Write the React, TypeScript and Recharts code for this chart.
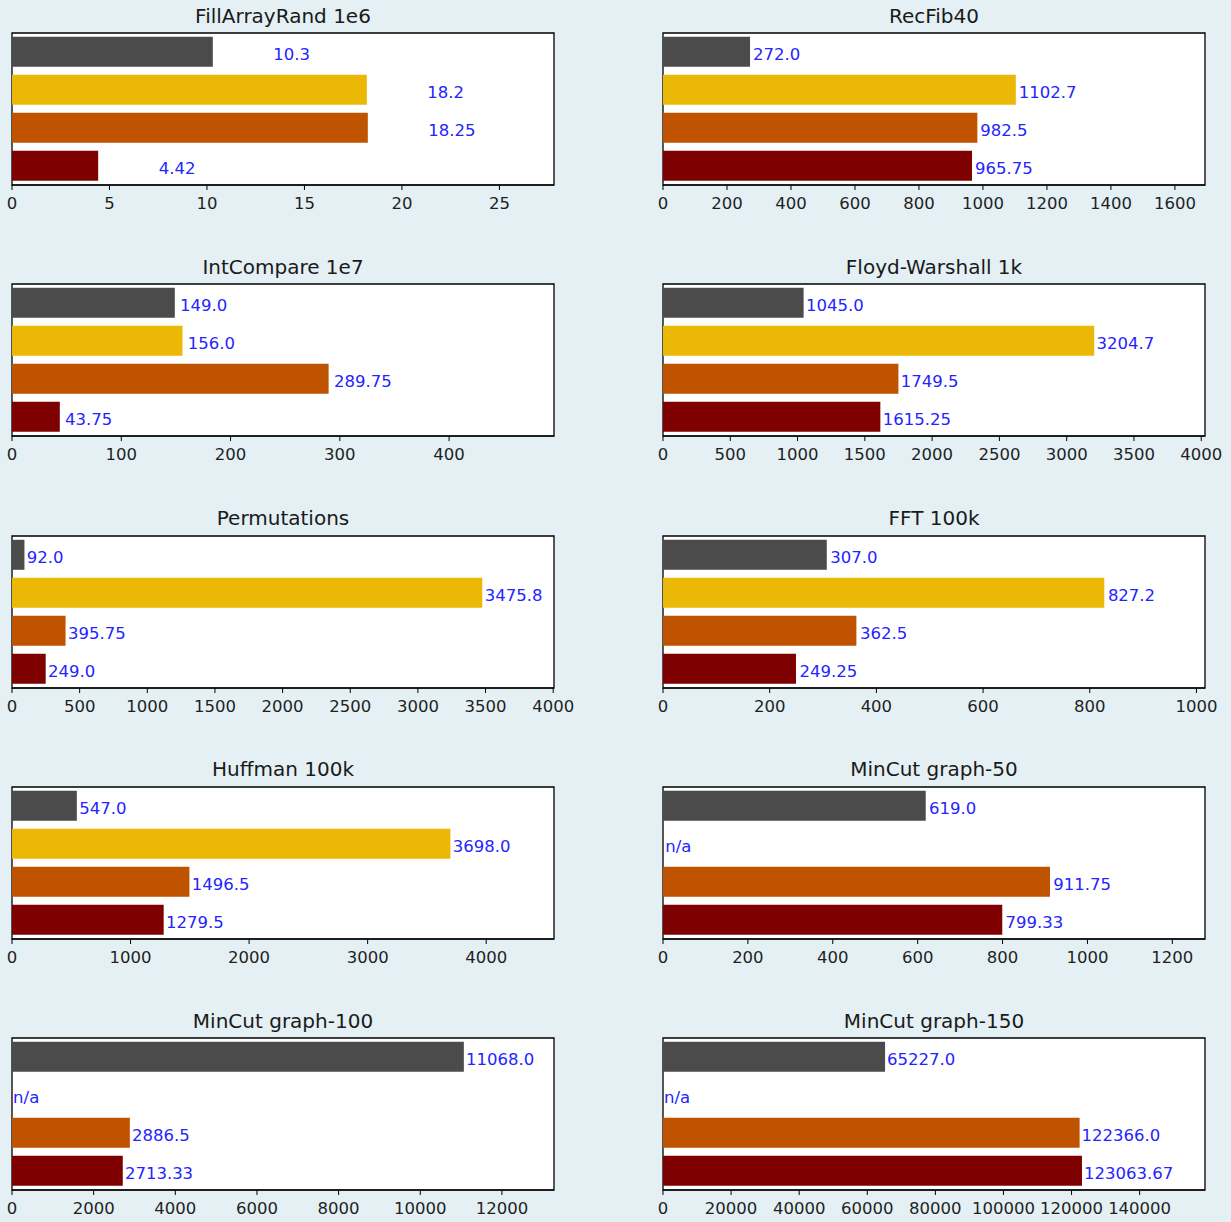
import React from 'react';
import { BarChart, Bar, XAxis, YAxis, Cell, CartesianGrid, ReferenceArea, LabelList } from 'recharts';

// benchmark names, left-to-right then top-to-bottom
const benchmarks = [
  'FillArrayRand 1e6', 'RecFib40',
  'IntCompare 1e7', 'Floyd-Warshall 1k',
  'Permutations', 'FFT 100k',
  'Huffman 100k', 'MinCut graph-50',
  'MinCut graph-100', 'MinCut graph-150',
];

// one array per implementation (bar order top to bottom), null = n/a
const grayTimes = [10.3, 272.0, 149.0, 1045.0, 92.0, 307.0, 547.0, 619.0, 11068.0, 65227.0];
const goldTimes = [18.2, 1102.7, 156.0, 3204.7, 3475.8, 827.2, 3698.0, null, null, null];
const orangeTimes = [18.25, 982.5, 289.75, 1749.5, 395.75, 362.5, 1496.5, 911.75, 2886.5, 122366.0];
const redTimes = [4.42, 965.75, 43.75, 1615.25, 249.0, 249.25, 1279.5, 799.33, 2713.33, 123063.67];

const axisMax = [27.8, 1694, 496, 4028, 4006, 1016, 4572, 1277, 13276, 159200];
const axisTicks = [
  [0, 5, 10, 15, 20, 25],
  [0, 200, 400, 600, 800, 1000, 1200, 1400, 1600],
  [0, 100, 200, 300, 400],
  [0, 500, 1000, 1500, 2000, 2500, 3000, 3500, 4000],
  [0, 500, 1000, 1500, 2000, 2500, 3000, 3500, 4000],
  [0, 200, 400, 600, 800, 1000],
  [0, 1000, 2000, 3000, 4000],
  [0, 200, 400, 600, 800, 1000, 1200],
  [0, 2000, 4000, 6000, 8000, 10000, 12000],
  [0, 20000, 40000, 60000, 80000, 100000, 120000, 140000],
];

const colors = ['#4b4b4b', '#ecb806', '#bf5300', '#7f0000'];
const LABEL_OFFSET = 3; // data units past the bar end
const LABEL_COLOR = '#2424ff';

const PLOT_W = 542;
const PLOT_H = 152;
const COL_LEFT = [12, 663];
const ROW_TOP = [33, 284.25, 535.5, 786.75, 1038];
const M_LEFT = 10;
const M_RIGHT = 34;
const M_TOP = 2;
const AXIS_H = 40;

// python-like float repr: 272 -> "272.0"
const fmt = (v: number | null) => (v == null ? 'n/a' : Number.isInteger(v) ? v.toFixed(1) : String(v));

const Panel = ({ idx }: { idx: number }) => {
  const series = [grayTimes, goldTimes, orangeTimes, redTimes];
  const data = series.map((s, i) => ({
    name: `s${i}`,
    value: s[idx] ?? 0,
    label: fmt(s[idx]),
    missing: s[idx] == null,
  }));
  const max = axisMax[idx];
  const k = PLOT_W / max;
  const col = idx % 2;
  const row = Math.floor(idx / 2);
  const left = COL_LEFT[col];
  const top = ROW_TOP[row];

  const renderLabel = (props: any) => {
    const vb = props.viewBox ?? props;
    const x = vb.x + vb.width + LABEL_OFFSET * k + 2;
    const y = vb.y + vb.height / 2 + 8.5;
    return (
      <text key={`lbl-${props.index}`} x={x} y={y} fill={LABEL_COLOR} fontSize={16.5}>
        {props.value}
      </text>
    );
  };

  // n/a rows have no bar, so hang the label on a reference area of the row
  const renderNa = (props: any) => {
    const vb = props.viewBox ?? props;
    return (
      <text x={vb.x + vb.width + 1} y={vb.y + vb.height / 2 + 8} fill={LABEL_COLOR} fontSize={16.5}>
        n/a
      </text>
    );
  };

  return (
    <>
      <div
        style={{
          position: 'absolute',
          left,
          top: top - 27.5,
          width: PLOT_W,
          textAlign: 'center',
          fontSize: 20,
          lineHeight: '20px',
          color: '#1a1a1a',
        }}
      >
        {benchmarks[idx]}
      </div>
      <div style={{ position: 'absolute', left: left - M_LEFT, top: top - M_TOP }}>
        <BarChart
          width={PLOT_W + M_LEFT + M_RIGHT}
          height={PLOT_H + M_TOP + AXIS_H}
          data={data}
          layout="vertical"
          margin={{ top: M_TOP, right: M_RIGHT, bottom: 0, left: M_LEFT }}
          barCategoryGap="10%"
        >
          <CartesianGrid fill="#ffffff" horizontal={false} vertical={false} />
          <XAxis
            type="number"
            domain={[0, max]}
            ticks={axisTicks[idx]}
            allowDataOverflow
            height={AXIS_H}
            tickSize={5}
            tickMargin={7.5}
            tickLine={{ stroke: '#000' }}
            axisLine={{ stroke: '#000' }}
            tick={{ fontSize: 16.5, fill: '#1f1f1f' }}
            interval={0}
          />
          <YAxis type="category" dataKey="name" hide />
          <Bar dataKey="value" isAnimationActive={false}>
            {data.map((d, i) => (
              <Cell key={d.name} fill={colors[i]} />
            ))}
            <LabelList dataKey="label" content={renderLabel} />
          </Bar>
          {data
            .filter((d) => d.missing)
            .map((d) => (
              <ReferenceArea
                key={`na-${d.name}`}
                y1={d.name}
                y2={d.name}
                x1={0}
                x2={LABEL_OFFSET}
                fill="none"
                fillOpacity={0}
                stroke="none"
                label={renderNa}
              />
            ))}
          <ReferenceArea x1={0} x2={max} fill="none" fillOpacity={0} stroke="#000" strokeWidth={1.3} />
        </BarChart>
      </div>
    </>
  );
};

export default function App() {
  return (
    <div
      style={{
        position: 'absolute',
        left: 0,
        top: 0,
        width: 1231,
        height: 1222,
        background: '#e4f0f4',
        fontFamily: '"DejaVu Sans", sans-serif',
        overflow: 'hidden',
      }}
    >
      {benchmarks.map((_, i) => (
        <Panel key={i} idx={i} />
      ))}
    </div>
  );
}
